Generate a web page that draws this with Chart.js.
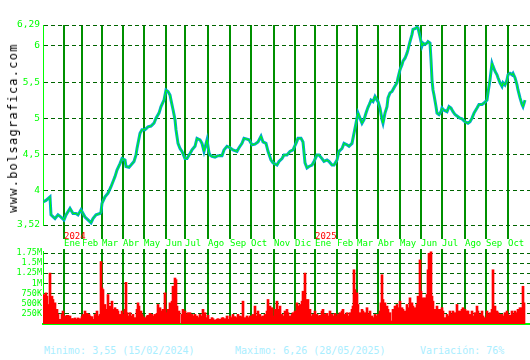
<!DOCTYPE html>
<html>
<head>
<meta charset="utf-8">
<script src="https://cdn.jsdelivr.net/npm/chart.js@4/dist/chart.umd.min.js"></script>
<style>
body { margin:0; background:#fff; width:530px; height:360px; overflow:hidden; position:relative; font-family:"DejaVu Sans Mono", monospace; }
#precio { position:absolute; left:0; top:0; }
#volumen { position:absolute; left:0; top:230px; }
.web { position:absolute; left:13px; top:128px; transform:translate(-50%,-50%) rotate(-90deg); font-size:12px; line-height:12px; letter-spacing:1.25px; color:#000; white-space:nowrap; }
.pie { position:absolute; top:345px; font-size:10px; line-height:12px; color:#aaeeff; white-space:nowrap; }
</style>
</head>
<body>
<canvas id="precio" width="530" height="250"></canvas>
<canvas id="volumen" width="530" height="100"></canvas>
<div class="web">www.bolsagrafica.com</div>
<div class="pie" style="left:44px">Minimo: 3,55 (15/02/2024)</div>
<div class="pie" style="left:235px">Maximo: 6,26 (28/05/2025)</div>
<div class="pie" style="left:420px">Variación: 76%</div>
<script>
// dias de sesion desde el inicio del grafico (1 dia = 1 px)
const totalDias = 487;

// inicio de cada mes
const mesDia = [21, 39, 59, 80, 101, 123, 142, 165, 187, 208, 231, 252, 272, 294, 314, 335, 357, 378, 399, 422, 443, 465];
const mesEtiqueta = ['Ene','Feb','Mar','Abr','May','Jun','Jul','Ago','Sep','Oct','Nov','Dic','Ene','Feb','Mar','Abr','May','Jun','Jul','Ago','Sep','Oct'];
const anioEtiqueta = ['2024','','','','','','','','','','','','2025','','','','','','','','',''];

// cotizacion
const precioTicks = [3.52, 4, 4.5, 5, 5.5, 6, 6.29];
const precioDia = [
  0,3,7,8,12,15,18,21,23,27,
  30,33,35,38,42,45,48,50,53,57,
  58,59,62,65,68,72,74,77,79,82,
  83,86,88,91,93,94,97,99,102,105,
  108,111,113,116,118,121,123,125,127,128,
  130,132,133,135,137,139,142,144,147,149,
  152,154,157,159,161,164,166,167,169,172,
  175,179,181,184,187,190,194,196,199,201,
  204,206,209,212,215,218,220,223,225,228,
  230,234,236,239,241,244,247,250,253,255,
  258,260,262,264,266,269,271,274,276,279,
  281,284,286,289,291,294,296,299,301,304,
  306,309,311,313,315,317,319,321,323,325,
  327,328,330,332,334,335,337,339,340,342,
  344,345,347,349,351,354,355,357,359,360,
  362,364,365,367,369,370,372,374,375,377,
  379,380,382,384,385,387,388,389,390,391,
  393,394,396,398,399,401,404,406,408,410,
  412,415,417,419,422,425,427,429,431,434,
  436,439,441,444,445,447,449,450,452,454,
  455,457,459,460,462,464,465,467,469,470,
  472,474,475,477,479,480,482
];
const precioCierre = [
  3.84,3.86,3.91,3.66,3.61,3.66,3.63,3.59,3.66,3.75,
  3.68,3.68,3.66,3.73,3.63,3.59,3.55,3.61,3.66,3.68,
  3.70,3.82,3.91,3.96,4.05,4.19,4.28,4.37,4.44,4.42,
  4.33,4.32,4.35,4.40,4.49,4.58,4.79,4.84,4.84,4.88,
  4.89,4.93,5.00,5.07,5.16,5.25,5.39,5.37,5.32,5.25,
  5.12,4.98,4.84,4.65,4.58,4.54,4.44,4.44,4.51,4.56,
  4.61,4.72,4.70,4.65,4.54,4.70,4.52,4.49,4.47,4.46,
  4.48,4.48,4.56,4.61,4.59,4.56,4.54,4.59,4.65,4.72,
  4.71,4.70,4.63,4.64,4.67,4.75,4.67,4.65,4.54,4.42,
  4.38,4.35,4.40,4.44,4.49,4.49,4.54,4.56,4.65,4.72,
  4.72,4.67,4.38,4.31,4.33,4.35,4.40,4.49,4.49,4.44,
  4.40,4.42,4.40,4.35,4.35,4.42,4.54,4.58,4.65,4.63,
  4.61,4.65,4.79,4.93,5.07,5.00,4.93,4.98,5.07,5.15,
  5.21,5.25,5.23,5.30,5.25,5.23,5.14,4.98,4.93,5.07,
  5.16,5.28,5.35,5.37,5.42,5.49,5.56,5.67,5.74,5.79,
  5.83,5.90,5.95,6.06,6.16,6.23,6.24,6.26,6.25,6.13,
  6.00,6.04,6.02,6.04,6.06,6.04,5.81,5.53,5.39,5.32,
  5.16,5.07,5.05,5.09,5.14,5.11,5.09,5.16,5.14,5.09,
  5.05,5.02,5.00,4.99,4.95,4.93,4.95,5.00,5.07,5.14,
  5.19,5.19,5.21,5.25,5.35,5.53,5.76,5.72,5.65,5.60,
  5.56,5.49,5.44,5.49,5.46,5.53,5.60,5.62,5.60,5.62,
  5.56,5.46,5.39,5.28,5.19,5.16,5.25
];

// volumen (miles)
const volTicks = [250, 500, 750, 1000, 1250, 1500, 1750];
const volEtiqueta = ['250K','500K','750K','1M','1.25M','1.5M','1.75M'];
const volDia = [
  1,3,4,6,7,9,10,11,12,14,
  15,17,19,20,22,24,25,27,29,30,
  32,34,35,37,39,40,42,43,44,46,
  47,49,50,52,54,55,57,58,59,60,
  62,64,65,67,69,70,72,74,75,77,
  79,80,82,83,84,86,87,89,90,92,
  94,95,96,98,99,100,102,104,105,107,
  109,110,112,114,115,117,119,120,122,123,
  124,125,127,129,130,132,133,134,136,139,
  140,142,144,145,147,149,150,152,154,155,
  157,159,160,162,164,165,167,169,170,172,
  174,175,177,179,180,182,184,185,187,189,
  190,192,194,195,197,199,200,202,204,205,
  207,209,210,212,214,215,217,219,220,222,
  224,225,227,229,230,232,234,235,237,239,
  240,242,244,245,247,249,250,252,254,255,
  257,259,260,262,263,264,265,267,269,270,
  272,274,275,277,279,280,282,284,285,287,
  289,290,292,294,295,297,299,300,302,304,
  306,307,309,310,311,312,314,315,317,319,
  320,322,324,325,327,329,330,332,334,335,
  337,338,339,340,342,344,345,347,349,350,
  352,354,355,357,359,360,362,364,365,367,
  369,370,372,374,375,377,378,380,381,382,
  384,385,386,388,389,390,392,394,395,397,
  399,400,402,404,405,407,409,410,412,414,
  415,417,419,420,422,424,425,427,429,430,
  432,434,435,437,439,440,442,444,445,447,
  449,450,451,452,454,455,457,459,460,462,
  464,465,467,469,470,472,474,475,477,479,
  480,481
];
const volMiles = [
  725,766,685,480,1255,685,603,480,520,360,
  235,115,235,318,196,212,212,196,130,130,
  147,115,147,130,180,235,318,155,260,235,
  196,180,115,235,318,196,235,1540,888,848,
  480,360,725,440,562,360,400,360,318,235,
  318,235,360,1027,277,196,277,196,235,155,
  360,520,440,318,235,180,155,196,212,260,
  235,196,235,260,480,400,318,360,766,196,
  277,360,520,562,930,1133,1092,440,318,235,
  360,318,235,277,277,235,196,235,196,155,
  235,196,360,277,155,212,115,155,130,98,
  115,130,115,147,155,130,196,115,196,155,
  235,180,155,235,196,180,562,155,196,155,
  196,196,235,440,196,318,235,180,196,235,
  318,603,440,400,196,360,562,360,440,235,
  196,318,360,277,196,235,277,318,520,440,
  480,562,807,1255,603,520,603,360,196,235,
  318,235,196,212,318,360,235,260,196,318,
  235,196,260,196,235,277,318,360,235,277,
  196,277,360,440,1337,848,766,480,277,360,
  318,277,400,235,318,196,155,235,196,235,
  318,520,1214,603,520,440,360,277,73,360,
  440,480,400,562,400,360,318,480,400,644,
  520,440,400,480,685,1581,807,644,603,644,
  725,1337,1744,1780,685,562,360,440,360,360,
  400,318,155,235,196,318,235,318,277,480,
  318,318,360,400,360,318,318,235,318,196,
  277,440,318,235,318,196,155,318,235,277,
  360,1337,318,440,318,277,235,235,196,277,
  318,235,212,318,235,318,277,360,400,400,
  930,520
];

Chart.defaults.font.family = '"DejaVu Sans Mono", monospace';

const puntosPrecio = precioDia.map((d, i) => ({ x: d, y: precioCierre[i] }));
const puntosVol = volDia.map((d, i) => ({ x: d, y: volMiles[i] }));

const verdeMes = '#009000';
const verdeDash = '#006400';
const verdeEje = '#00ff00';

new Chart(document.getElementById('precio'), {
    type: 'line',
    data: {
        datasets: [
            { data: puntosPrecio, borderColor: '#00ff00', borderWidth: 1, pointRadius: 0, tension: 0 },
            { data: puntosPrecio, borderColor: '#00a8c8', borderWidth: 3, pointRadius: 0, tension: 0 }
        ]
    },
    options: {
        responsive: false,
        animation: false,
        devicePixelRatio: 1,
        layout: { padding: { top: 25, right: 0, left: 0, bottom: 0 } },
        plugins: { legend: { display: false }, tooltip: { enabled: false } },
        scales: {
            x: {
                type: 'linear', min: 0, max: totalDias, offset: false,
                afterBuildTicks: s => { s.ticks = mesDia.map(v => ({ value: v })); },
                afterFit: s => { s.height = 25; },
                grid: { color: verdeMes, lineWidth: 2, tickLength: 14, tickColor: verdeMes },
                border: { display: false },
                ticks: {
                    align: 'start', padding: -8, color: '#ff0000', autoSkip: false, maxRotation: 0,
                    font: { size: 9 },
                    callback: (v, i) => anioEtiqueta[i]
                }
            },
            y: {
                min: 3.52, max: 6.29,
                afterBuildTicks: s => { s.ticks = precioTicks.map(v => ({ value: v })); },
                afterFit: s => { s.width = 43; },
                grid: { color: verdeDash, lineWidth: 1, drawTicks: false },
                border: { color: verdeEje, width: 1, dash: [4, 3] },
                ticks: {
                    color: verdeEje, padding: 3, autoSkip: false, font: { size: 9.5 },
                    callback: v => String(v).replace('.', ',')
                }
            }
        }
    }
});

new Chart(document.getElementById('volumen'), {
    type: 'bar',
    data: {
        datasets: [
            { data: puntosVol, backgroundColor: '#ff0000', barThickness: 2, xAxisID: 'x', yAxisID: 'y' }
        ]
    },
    options: {
        responsive: false,
        animation: false,
        devicePixelRatio: 1,
        layout: { padding: { top: 0, right: 0, left: 0, bottom: 5 } },
        plugins: { legend: { display: false }, tooltip: { enabled: false } },
        scales: {
            x: {
                type: 'linear', position: 'top', min: 0, max: totalDias, offset: false,
                afterBuildTicks: s => { s.ticks = mesDia.map(v => ({ value: v })); },
                afterFit: s => { s.height = 21; },
                grid: { offset: false, color: verdeMes, lineWidth: 2, tickLength: 2, tickColor: verdeMes },
                border: { display: false },
                ticks: {
                    align: 'start', padding: 0, color: verdeEje, autoSkip: false, maxRotation: 0,
                    font: { size: 9 },
                    callback: (v, i) => mesEtiqueta[i]
                }
            },
            x2: {
                type: 'linear', position: 'bottom', min: 0, max: totalDias, offset: false,
                afterFit: s => { s.height = 0; },
                grid: { display: false },
                ticks: { display: false },
                border: { color: verdeEje, width: 2 }
            },
            y: {
                min: 0, max: 1800,
                afterBuildTicks: s => { s.ticks = volTicks.map(v => ({ value: v })); },
                afterFit: s => { s.width = 43; },
                grid: { color: verdeDash, lineWidth: 1, drawTicks: false },
                border: { color: verdeEje, width: 1, dash: [4, 3] },
                ticks: {
                    color: verdeEje, padding: 1, autoSkip: false, font: { size: 8.5 },
                    callback: (v, i) => volEtiqueta[i]
                }
            }
        }
    }
});
</script>
</body>
</html>
